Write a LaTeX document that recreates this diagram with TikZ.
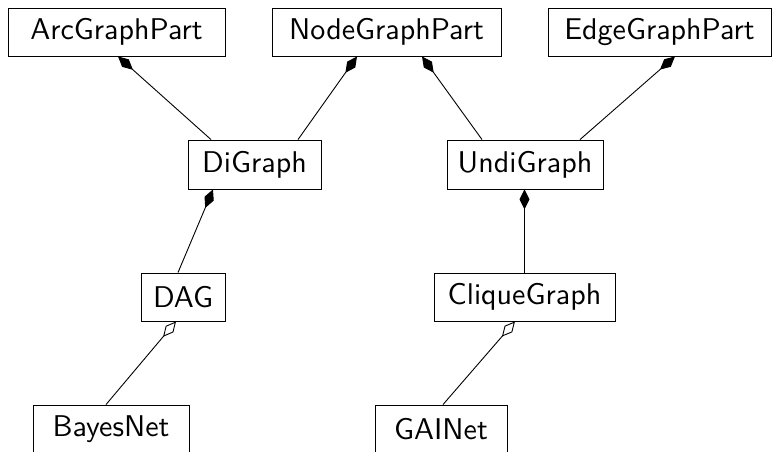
\documentclass[tikz,border=0pt]{standalone}
\usepackage{fontspec}
\newfontfamily\clsfont{lmsans10-regular.otf}
\usetikzlibrary{arrows.meta}
\begin{document}
\begin{tikzpicture}[x=1pt,y=-1pt,
  cls/.style={draw,line width=0.9pt,rectangle,inner sep=0pt,minimum height=48pt,font=\clsfont\fontsize{30}{34}\selectfont},
  comp/.style={line width=0.9pt,-{Diamond[length=20pt,width=10pt]}},
  aggr/.style={line width=0.9pt,-{Diamond[open,length=20pt,width=10pt,fill=white]}}]
\useasboundingbox (0,0) rectangle (774,451);
\node[cls,minimum width=217pt] (arc) at (116.5,32) {ArcGraphPart};
\node[cls,minimum width=229pt] (nodep) at (386.5,32) {NodeGraphPart};
\node[cls,minimum width=223pt] (edge) at (659.5,32) {EdgeGraphPart};
\node[cls,minimum width=133pt,minimum height=49pt] (di) at (254.5,164.5) {DiGraph};
\node[cls,minimum width=156pt,minimum height=49pt] (undi) at (525,164.5) {UndiGraph};
\node[cls,minimum width=84pt] (dag) at (183,297) {DAG};
\node[cls,minimum width=181pt] (clique) at (524.5,297) {CliqueGraph};
\node[cls,minimum width=156pt] (bayes) at (111,429) {BayesNet};
\node[cls,minimum width=132pt] (gai) at (441,429) {GAINet};
\draw[comp] ([xshift=-43.5pt]di.north) -- ([xshift=1.5pt]arc.south);
\draw[comp] ([xshift=43.5pt]di.north) -- ([xshift=-29.5pt]nodep.south);
\draw[comp] ([xshift=-43pt]undi.north) -- ([xshift=35.5pt]nodep.south);
\draw[comp] ([xshift=55pt]undi.north) -- ([xshift=15.5pt]edge.south);
\draw[comp] ([xshift=-5pt]dag.north) -- ([xshift=-41.5pt]di.south);
\draw[comp] (clique.north) -- (clique.north |- undi.south);
\draw[aggr] ([xshift=-5pt]bayes.north) -- ([xshift=-7pt]dag.south);
\draw[aggr] ([xshift=2pt]gai.north) -- ([xshift=-9.5pt]clique.south);
\end{tikzpicture}
\end{document}
